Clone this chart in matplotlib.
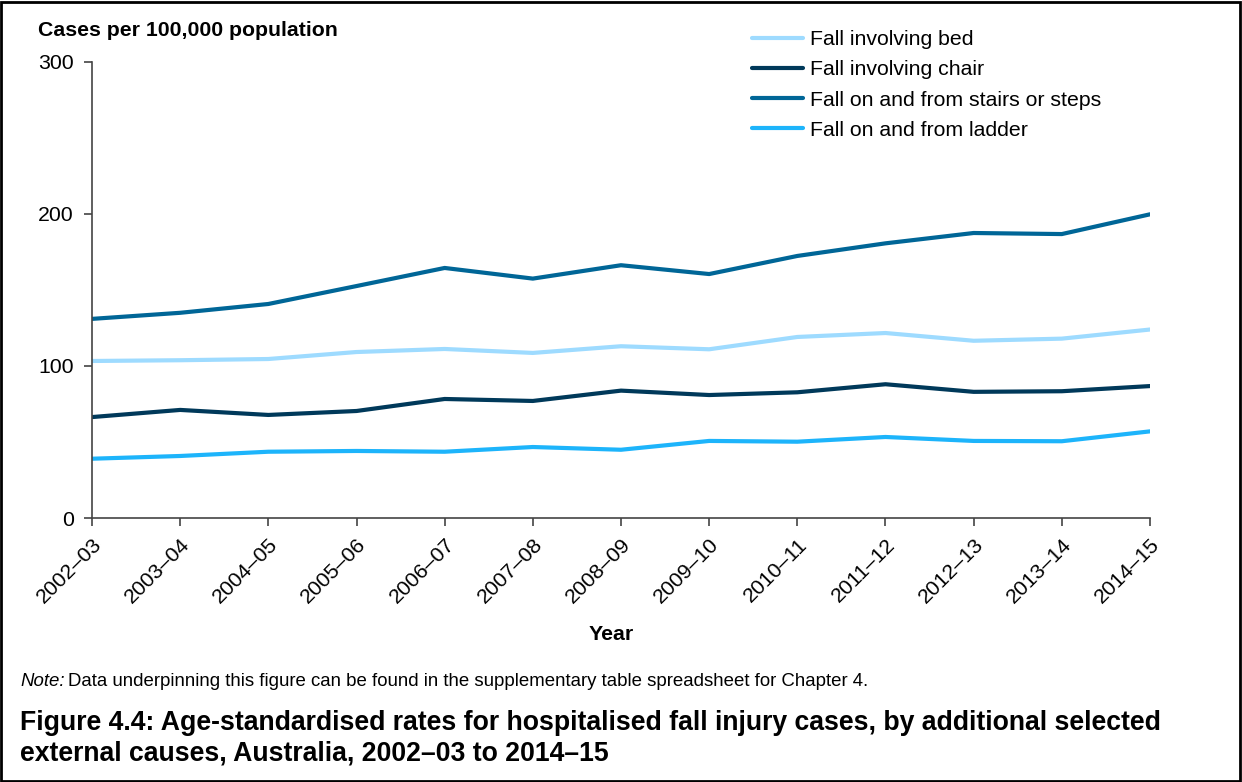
import matplotlib
matplotlib.use("Agg")
import matplotlib.pyplot as plt
from matplotlib.patches import Rectangle

plt.rcParams['font.family'] = ['Liberation Sans', 'DejaVu Sans']

years = ["2002–03", "2003–04", "2004–05", "2005–06", "2006–07", "2007–08", "2008–09",
         "2009–10", "2010–11", "2011–12", "2012–13", "2013–14", "2014–15"]
bed = [103.3, 103.8, 104.6, 109.2, 111.2, 108.6, 113.0, 111.0, 119.1, 121.7, 116.6, 118.0, 124.0]
chair = [66.4, 71.1, 67.8, 70.4, 78.3, 77.0, 83.8, 80.9, 82.7, 88.0, 83.0, 83.4, 86.8]
stairs = [131.0, 135.0, 140.8, 152.6, 164.5, 157.5, 166.3, 160.5, 172.4, 180.7, 187.5, 186.8, 199.8]
ladder = [39.0, 40.8, 43.6, 44.1, 43.6, 46.7, 44.9, 50.7, 50.2, 53.3, 50.7, 50.5, 57.0]

series = [
    ("Fall involving bed", bed, "#9EDBFF"),
    ("Fall involving chair", chair, "#00395A"),
    ("Fall on and from stairs or steps", stairs, "#006697"),
    ("Fall on and from ladder", ladder, "#1DB4FB"),
]

FS = 15.3
W, H = 1242, 782
fig = plt.figure(figsize=(W / 100, H / 100), dpi=100)
ax = fig.add_axes([92 / W, 1 - 518 / H, (1150 - 92) / W, (518 - 62) / H])

x = list(range(len(years)))
for label, vals, col in series:
    ax.plot(x, vals, color=col, lw=3, label=label, solid_capstyle='round', solid_joinstyle='round')

ax.set_xlim(0, len(years) - 1)
ax.set_ylim(0, 300)
ax.set_yticks([0, 100, 200, 300])
ax.set_xticks(x)
ax.set_xticklabels(years, rotation=45, ha='right', rotation_mode='anchor')
for s in ['top', 'right']:
    ax.spines[s].set_visible(False)
for s in ['left', 'bottom']:
    ax.spines[s].set_color('#444444')
    ax.spines[s].set_linewidth(1.2)
ax.tick_params(axis='both', labelsize=FS, length=6, width=1.2, color='#444444', direction='out')
ax.tick_params(axis='y', pad=7)
ax.tick_params(axis='x', pad=6)

ax.legend(loc='upper left', bbox_to_anchor=(752 / W, 1 - 30 / H), bbox_transform=fig.transFigure,
          frameon=False, fontsize=FS, handlelength=2.4, handletextpad=0.33,
          labelspacing=0.53, borderaxespad=0, borderpad=0)

fig.text(38 / W, 1 - 31 / H, "Cases per 100,000 population", fontsize=FS, fontweight='bold',
         ha='left', va='center')
fig.text(611 / W, 1 - 634 / H, "Year", fontsize=FS, fontweight='bold', ha='center', va='center')

t1 = fig.text(20 / W, 1 - 681 / H, "Note:", fontsize=13.4, style='italic', ha='left', va='center')
fig.canvas.draw()
bb = t1.get_window_extent()
fig.text((bb.x1 + 4) / W, 1 - 681 / H,
         "Data underpinning this figure can be found in the supplementary table spreadsheet for Chapter 4.",
         fontsize=13.4, ha='left', va='center')

fig.text(20 / W, 1 - 738 / H,
         "Figure 4.4: Age-standardised rates for hospitalised fall injury cases, by additional selected\nexternal causes, Australia, 2002–03 to 2014–15",
         fontsize=19.2, fontweight='bold', ha='left', va='center', linespacing=1.22)

fig.patches.append(Rectangle((1 / W, 1 / H), (W - 3) / W, (H - 3) / H, transform=fig.transFigure,
                             fill=False, edgecolor='black', lw=2, figure=fig))

fig.savefig("out.png", dpi=100)
